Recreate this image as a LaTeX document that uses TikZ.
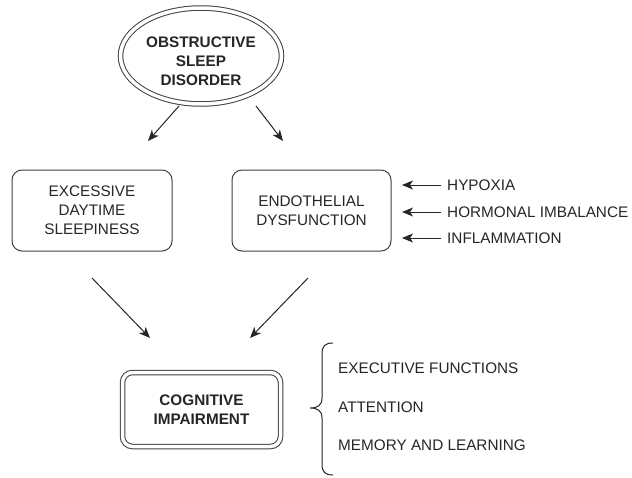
\documentclass[tikz,border=0pt]{standalone}
\usepackage{fontspec}
\setmainfont{Liberation Sans}
\usetikzlibrary{shapes.geometric,arrows.meta}
\begin{document}
\begin{tikzpicture}[x=1pt,y=-1pt,
  txt/.style={font=\fontsize{15.3}{19}\selectfont, text=black!85, align=center, inner sep=0pt},
  btxt/.style={font=\fontsize{15.3}{19}\selectfont\bfseries, text=black!85, align=center, inner sep=0pt},
  rbox/.style={draw=black!75, line width=1pt, rounded corners=10pt, txt},
  arr/.style={-{Stealth[length=11pt,width=9pt,inset=3pt]}, line width=1pt, draw=black!85},
  dbl/.style={draw=black!75, double=white, double distance=3.5pt, line width=1pt}
]
\useasboundingbox (0,0) rectangle (632,477);
\fill[white] (0,0) rectangle (632,477);

% top ellipse
\node[ellipse, dbl, minimum width=161pt, minimum height=96pt, inner sep=0pt] (osd) at (201,56) {};
\node[btxt] (osdt) at (201,61) {OBSTRUCTIVE\\SLEEP\\DISORDER};

% middle boxes
\node[rbox, minimum width=160pt, minimum height=81pt] (eds) at (92,210.5) {EXCESSIVE\\DAYTIME\\SLEEPINESS};
\node[rbox, minimum width=159pt, minimum height=81pt] (ed) at (311.5,210.5) {ENDOTHELIAL\\DYSFUNCTION};

% arrows from top
\coordinate (a1s) at (179,106);
\coordinate (a1e) at (148,141);
\coordinate (a2s) at (256,106);
\coordinate (a2e) at (283,141);
\draw[arr] (a1s) -- (a1e);
\draw[arr] (a2s) -- (a2e);

% factors
\node[txt, anchor=west] (hyp) at (447,185) {HYPOXIA};
\node[txt, anchor=west] (hor) at (447,212) {HORMONAL IMBALANCE};
\node[txt, anchor=west] (inf) at (447,238) {INFLAMMATION};
\coordinate (h1s) at (441,185);
\coordinate (h2s) at (441,212);
\coordinate (h3s) at (441,238);
\coordinate (h1e) at (402,185);
\coordinate (h2e) at (402,212);
\coordinate (h3e) at (402,238);
\draw[arr] (h1s) -- (h1e);
\draw[arr] (h2s) -- (h2e);
\draw[arr] (h3s) -- (h3e);

% cognitive impairment
\node[dbl, rounded corners=10pt, minimum width=158pt, minimum height=74pt, btxt] (ci) at (201.5,409.5) {COGNITIVE\\IMPAIRMENT};

\coordinate (b1s) at (92,278);
\coordinate (b1e) at (150,338);
\coordinate (b2s) at (308,278);
\coordinate (b2e) at (250,338);
\draw[arr] (b1s) -- (b1e);
\draw[arr] (b2s) -- (b2e);

% brace
\draw[line width=1pt, draw=black!85] (333,343) .. controls (325,343) and (322,346) .. (322,354)
  -- (322,398) .. controls (322,405) and (318,408) .. (310,408)
  .. controls (318,408) and (322,411) .. (322,418)
  -- (322,464) .. controls (322,472) and (325,475) .. (333,475);

\node[txt, anchor=west] (exe) at (338,368) {EXECUTIVE FUNCTIONS};
\node[txt, anchor=west] (att) at (338,407) {ATTENTION};
\node[txt, anchor=west] (mem) at (338,445) {MEMORY AND LEARNING};
\end{tikzpicture}
\end{document}
